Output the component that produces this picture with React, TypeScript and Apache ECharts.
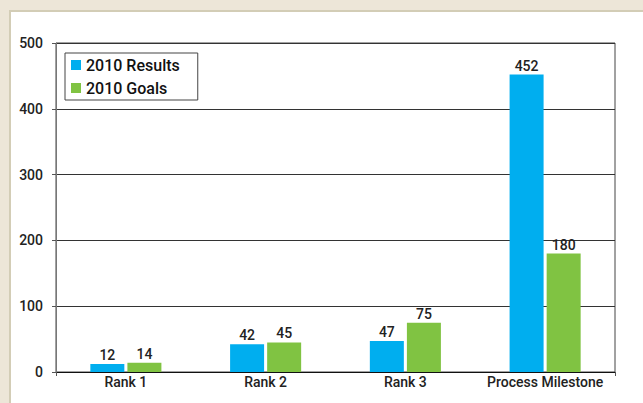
import React, { useEffect, useRef } from "react";
import * as echarts from "echarts";

const categories = ["Rank 1", "Rank 2", "Rank 3", "Process Milestone"];
const results2010 = [12, 42, 47, 452];
const goals2010 = [14, 45, 75, 180];
const yMin = 0;
const yMax = 500;
const yInterval = 100;

const FONT = "Roboto, 'DejaVu Sans', sans-serif";

export default function App() {
  const ref = useRef<HTMLDivElement>(null);
  useEffect(() => {
    if (!ref.current) return;
    const chart = echarts.init(ref.current, undefined, { renderer: "svg" });
    const labelStyle = {
      show: true,
      position: "top" as const,
      distance: 2,
      fontSize: 14,
      fontFamily: FONT,
      fontWeight: 500,
      color: "#222",
    };
    chart.setOption({
      animation: false,
      backgroundColor: "#ede6d8",
      graphic: [
        {
          type: "rect",
          z: -10,
          silent: true,
          shape: { x: 10, y: 11, width: 640, height: 400 },
          style: { fill: "#ffffff", stroke: "#d3cdb6", lineWidth: 2 },
        },
      ],
      grid: {
        left: 56,
        top: 43,
        right: 28,
        bottom: 31,
        show: true,
        borderColor: "#444",
        borderWidth: 1,
        backgroundColor: "transparent",
      },
      legend: {
        orient: "vertical",
        left: 65,
        top: 53,
        data: ["2010 Results", "2010 Goals"],
        borderColor: "#444",
        borderWidth: 1,
        padding: [4, 18, 4, 6],
        itemWidth: 10,
        itemHeight: 10,
        itemGap: 7,
        icon: "rect",
        textStyle: { fontSize: 16, fontFamily: FONT, fontWeight: 500, color: "#111" },
      },
      xAxis: {
        type: "category",
        data: categories,
        axisLine: { show: true, lineStyle: { color: "#111", width: 1 } },
        axisTick: {
          show: true,
          length: 4,
          interval: (index: number) => index === 0,
          lineStyle: { color: "#555" },
        },
        axisLabel: {
          interval: 0,
          hideOverlap: false,
          margin: 3,
          fontSize: 14,
          fontFamily: FONT,
          fontWeight: 500,
          color: "#222",
        },
      },
      yAxis: {
        type: "value",
        min: yMin,
        max: yMax,
        interval: yInterval,
        axisLine: { show: true, lineStyle: { color: "#777", width: 1 } },
        axisTick: { show: true, length: 4, lineStyle: { color: "#555" } },
        splitLine: { show: true, lineStyle: { color: "#333", width: 1 } },
        axisLabel: {
          margin: 13,
          fontSize: 14,
          fontFamily: FONT,
          fontWeight: 500,
          color: "#222",
        },
      },
      series: [
        {
          name: "2010 Results",
          type: "bar",
          data: results2010,
          barWidth: 34,
          barGap: "9%",
          itemStyle: { color: "#00aeef" },
          label: labelStyle,
        },
        {
          name: "2010 Goals",
          type: "bar",
          data: goals2010,
          barWidth: 34,
          itemStyle: { color: "#80c342" },
          label: labelStyle,
        },
      ],
    });
    return () => chart.dispose();
  }, []);
  return (
    <div style={{ position: "fixed", left: 0, top: 0, width: 643, height: 403 }}>
      <div ref={ref} style={{ width: 643, height: 403 }} />
    </div>
  );
}
